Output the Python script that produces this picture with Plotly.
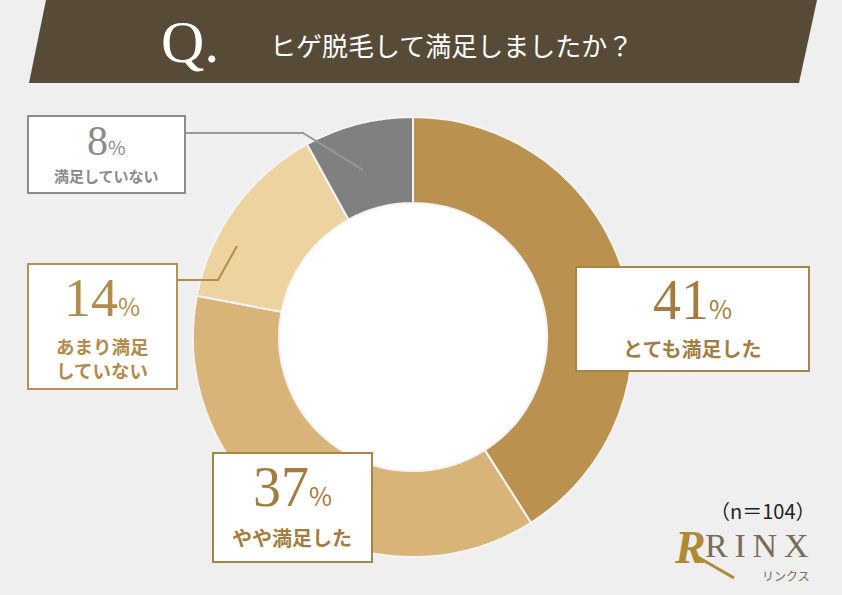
import plotly.graph_objects as go

# ---- data ----
categories = ["とても満足した", "やや満足した", "あまり満足していない", "満足していない"]
values = [41, 37, 14, 8]
box_labels = [["とても満足した"], ["やや満足した"], ["あまり満足", "していない"], ["満足していない"]]
title_text = "ヒゲ脱毛して満足しましたか？"
sample_note = "（n＝104）"

W, H = 842, 595
slice_colors = ["#bb9150", "#d9b478", "#edd3a0", "#808080"]
text_colors = ["#a57c40", "#a57c40", "#b38b4b", "#8a8a8a"]
box_colors = ["#a88446", "#a88446", "#b8904f", "#8c8c8c"]


def px(x):
    return x / W


def py(y):
    return 1 - y / H


cx, cy, R, r_in = 413, 337, 220, 134

fig = go.Figure()
fig.add_trace(go.Pie(
    labels=categories,
    values=values,
    sort=False,
    direction="clockwise",
    rotation=0,
    hole=r_in / R,
    marker=dict(colors=slice_colors, line=dict(color="#f4f4f4", width=2)),
    textinfo="none",
    hoverinfo="label+percent",
    showlegend=False,
    domain=dict(x=[px(cx - R), px(cx + R)], y=[py(cy + R), py(cy - R)]),
))

shapes = []
# header banner
shapes.append(dict(
    type="path", xref="paper", yref="paper",
    path=f"M {px(46)} {py(0)} L {px(817)} {py(0)} L {px(799)} {py(83)} L {px(29)} {py(83)} Z",
    fillcolor="#574a36", line=dict(width=0), layer="below"))
# white hole
shapes.append(dict(
    type="circle", xref="paper", yref="paper",
    x0=px(cx - r_in - 1), x1=px(cx + r_in + 1), y0=py(cy + r_in + 1), y1=py(cy - r_in - 1),
    fillcolor="#ffffff", line=dict(width=0), layer="below"))

# leader lines
shapes.append(dict(type="path", xref="paper", yref="paper",
                   path=f"M {px(185)} {py(133)} L {px(303)} {py(133)} L {px(363)} {py(170)}",
                   line=dict(color="#999999", width=2), layer="above"))
shapes.append(dict(type="path", xref="paper", yref="paper",
                   path=f"M {px(177)} {py(280)} L {px(218)} {py(280)} L {px(237)} {py(246)}",
                   line=dict(color="#b38b4b", width=2), layer="above"))

# label boxes (x0, y0, x1, y1) in pixels, per category
boxes = [(576, 267, 809, 371), (213, 453, 372, 562), (28, 264, 177, 389), (28, 116, 185, 193)]
for (x0, y0, x1, y1), bc in zip(boxes, box_colors):
    shapes.append(dict(type="rect", xref="paper", yref="paper",
                       x0=px(x0), x1=px(x1), y0=py(y1), y1=py(y0),
                       fillcolor="#ffffff", line=dict(color=bc, width=2), layer="above"))

# logo tail
shapes.append(dict(type="line", xref="paper", yref="paper",
                   x0=px(696), y0=py(556), x1=px(734), y1=py(578),
                   line=dict(color="#b08a35", width=3), layer="above"))

annotations = []


def ann(x, y, text, size, color, family="Noto Sans CJK JP", **kw):
    annotations.append(dict(
        x=px(x), y=py(y), xref="paper", yref="paper", text=text, showarrow=False,
        font=dict(size=size, color=color, family=family),
        xanchor=kw.pop("xanchor", "center"), yanchor=kw.pop("yanchor", "middle"), **kw))


# title
ann(190, 42, "Q.", 60, "#ffffff", family="Liberation Serif")
ann(268, 45, title_text, 26, "#ffffff", xanchor="left")

# percent + label text inside boxes: (center x, number y, first label line y, number size, label size, line gap)
num_pos = [(692, 300, 348, 56, 20, 0), (292, 487, 537, 56, 20, 0),
           (102, 298, 346, 54, 18.5, 24), (106, 141, 175, 42, 15, 0)]
for i, (v, lines) in enumerate(zip(values, box_labels)):
    bx, ny, ly, nsize, lsize, gap = num_pos[i]
    col = text_colors[i]
    ann(bx, ny,
        f"<span style='font-family:Liberation Serif'>{v}</span>"
        f"<span style='font-size:{int(nsize * 0.46)}px;font-family:Noto Sans CJK JP'>%</span>",
        nsize, col, family="Liberation Serif")
    for k, line in enumerate(lines):
        ann(bx, ly + k * gap, f"<b>{line}</b>", lsize, col)

# sample size
ann(763, 510, sample_note, 20, "#222222", family="Noto Sans CJK JP")

# logo
ann(690, 547, "<b><i>R</i></b>", 46, "#b08a35", family="Liberation Serif")
ann(757, 545, "R\u2009I\u2009N\u2009X", 34, "#7a6c58", family="Liberation Serif")
ann(786, 575, "リンクス", 12, "#7a6c58", family="Noto Sans CJK JP")

fig.update_layout(
    width=W, height=H,
    margin=dict(l=0, r=0, t=0, b=0),
    paper_bgcolor="#efefef",
    plot_bgcolor="#efefef",
    shapes=shapes,
    annotations=annotations,
)

fig.write_html("out.html", config={"displayModeBar": False},
               post_script="document.body.style.margin='0';document.body.style.overflow='hidden';")
